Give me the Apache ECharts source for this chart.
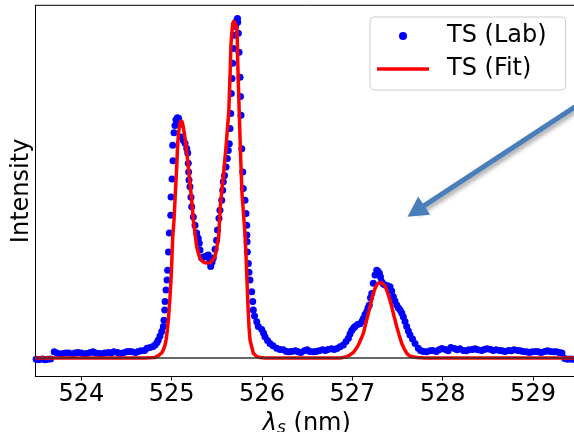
<!DOCTYPE html>
<html>
<head>
<meta charset="utf-8">
<script src="https://cdn.jsdelivr.net/npm/echarts@6/dist/echarts.min.js"></script>
<style>
html, body { margin: 0; padding: 0; background: #fff; }
#main { width: 574px; height: 432px; }
</style>
</head>
<body>
<div id="main"></div>
<script>
// wavelength ticks (nm)
var tickValues = [524, 525, 526, 527, 528, 529];

var labLambda = [
    523.50, 523.53, 523.57, 523.60, 523.63, 523.66,
    523.70, 523.73, 523.77, 523.80, 523.83, 523.86, 523.90, 523.93, 523.96, 524.00,
    524.03, 524.06, 524.10, 524.13, 524.16, 524.20, 524.23, 524.26, 524.30, 524.33,
    524.36, 524.40, 524.43, 524.46, 524.50, 524.53, 524.56, 524.60, 524.63, 524.66, 524.70,
    // peak 1
    524.727, 524.760, 524.794, 524.816, 524.838, 524.852, 524.871, 524.890, 524.908, 524.915,
    524.923, 524.927, 524.938, 524.949, 524.956, 524.965, 524.974, 524.990, 524.993, 525.004,
    525.015, 525.012, 525.026, 525.037, 525.048, 525.063, 525.076, 525.093, 525.111, 525.129,
    525.148, 525.167, 525.178, 525.184, 525.188, 525.192, 525.203, 525.214, 525.222, 525.240,
    525.259, 525.277, 525.295, 525.306, 525.314, 525.333, 525.353, 525.369, 525.388, 525.406,
    525.419, 525.432, 525.447, 525.461,
    // peak 2
    525.480, 525.497, 525.508, 525.524, 525.535, 525.554, 525.565, 525.572, 525.585, 525.602,
    525.616, 525.627, 525.638, 525.646, 525.654, 525.660, 525.668, 525.676, 525.683, 525.694,
    525.707, 525.720, 525.729, 525.731, 525.738, 525.746, 525.757, 525.762, 525.768, 525.776,
    525.787, 525.793, 525.812, 525.823, 525.831, 525.833, 525.835, 525.838, 525.849, 525.856,
    525.867, 525.886, 525.897, 525.904, 525.917, 525.942, 525.959, 525.997, 526.017, 526.033,
    526.061, 526.089, 526.122, 526.163, 526.200, 526.236,
    // between peaks
    526.27, 526.30, 526.33, 526.37, 526.40, 526.43, 526.47, 526.50, 526.53, 526.57,
    526.60, 526.63, 526.67, 526.70, 526.73, 526.77, 526.80, 526.83,
    // peak 3
    526.864, 526.900, 526.930, 526.956, 526.974, 526.993, 527.013, 527.030, 527.057, 527.085,
    527.107, 527.122, 527.140, 527.159, 527.173, 527.188, 527.201, 527.215, 527.232, 527.251,
    527.270, 527.284, 527.299, 527.312, 527.325, 527.343, 527.362, 527.390, 527.417, 527.436,
    527.454, 527.472, 527.491, 527.509, 527.528, 527.547, 527.564, 527.583, 527.602, 527.620,
    527.638, 527.666, 527.694, 527.730, 527.755, 527.786, 527.821,
    // right tail
    527.86, 527.89, 527.93, 527.96, 527.99, 528.03, 528.06, 528.09, 528.13, 528.16,
    528.19, 528.23, 528.26, 528.29, 528.33, 528.36, 528.39, 528.43, 528.46, 528.49,
    528.53, 528.56, 528.59, 528.63, 528.66, 528.69, 528.73, 528.76, 528.79, 528.83,
    528.86, 528.89, 528.93, 528.96, 528.99, 529.03, 529.06, 529.09, 529.13, 529.16,
    529.19, 529.23, 529.26, 529.29, 529.32,
    529.35, 529.38, 529.41, 529.44, 529.47
];
var labIntensity = [
    -0.004, -0.005, -0.003, -0.005, -0.004, -0.003,
    0.018, 0.015, 0.012, 0.013, 0.015, 0.015, 0.012, 0.015, 0.016, 0.015,
    0.012, 0.013, 0.016, 0.018, 0.015, 0.013, 0.012, 0.015, 0.016, 0.015,
    0.018, 0.016, 0.013, 0.015, 0.018, 0.019, 0.018, 0.016, 0.019, 0.021, 0.022,
    // peak 1
    0.029, 0.031, 0.034, 0.038, 0.046, 0.053, 0.065, 0.078, 0.093, 0.112,
    0.142, 0.167, 0.201, 0.231, 0.260, 0.314, 0.370, 0.423, 0.477, 0.530,
    0.584, 0.630, 0.667, 0.689, 0.706, 0.712, 0.710, 0.692, 0.655, 0.645,
    0.636, 0.621, 0.607, 0.577, 0.551, 0.527, 0.507, 0.476, 0.448, 0.418,
    0.393, 0.370, 0.355, 0.340, 0.320, 0.296, 0.299, 0.300, 0.302, 0.305,
    0.284, 0.271, 0.284, 0.296,
    // peak 2
    0.322, 0.349, 0.379, 0.414, 0.438, 0.467, 0.497, 0.522, 0.541, 0.566,
    0.591, 0.615, 0.635, 0.680, 0.724, 0.784, 0.828, 0.873, 0.917, 0.956,
    0.982, 1.000, 1.006, 0.995, 0.962, 0.906, 0.832, 0.775, 0.719, 0.620,
    0.551, 0.502, 0.467, 0.428, 0.393, 0.364, 0.344, 0.314, 0.280, 0.254,
    0.231, 0.196, 0.167, 0.142, 0.124, 0.107, 0.093, 0.084, 0.074, 0.063,
    0.052, 0.043, 0.036, 0.029, 0.025, 0.024,
    // between peaks
    0.019, 0.018, 0.019, 0.021, 0.018, 0.016, 0.021, 0.024, 0.019, 0.018,
    0.019, 0.021, 0.024, 0.022, 0.025, 0.027, 0.025, 0.028,
    // peak 3
    0.033, 0.038, 0.049, 0.058, 0.071, 0.081, 0.089, 0.093, 0.099, 0.101,
    0.109, 0.117, 0.129, 0.137, 0.148, 0.157, 0.178, 0.191, 0.221, 0.246,
    0.260, 0.257, 0.251, 0.240, 0.226, 0.219, 0.216, 0.214, 0.211, 0.198,
    0.181, 0.169, 0.157, 0.149, 0.142, 0.133, 0.122, 0.108, 0.093, 0.080,
    0.068, 0.056, 0.043, 0.029, 0.022, 0.019, 0.018,
    // right tail
    0.021, 0.022, 0.019, 0.024, 0.028, 0.025, 0.021, 0.031, 0.028, 0.024,
    0.027, 0.022, 0.021, 0.024, 0.025, 0.027, 0.024, 0.022, 0.025, 0.027,
    0.025, 0.022, 0.024, 0.022, 0.021, 0.019, 0.022, 0.021, 0.024, 0.022,
    0.021, 0.019, 0.018, 0.016, 0.018, 0.019, 0.018, 0.016, 0.019, 0.021,
    0.019, 0.018, 0.018, 0.016, 0.015,
    -0.002, -0.004, -0.003, -0.004, -0.003
];

// TS (Fit)
var fitLambda = [
    523.49, 524.70, 524.816, 524.849, 524.871, 524.890, 524.908, 524.924, 524.938, 524.951,
    524.963, 524.973, 524.982, 524.993, 525.001, 525.012, 525.026, 525.041, 525.056, 525.067,
    525.076, 525.085, 525.096, 525.107, 525.118, 525.129, 525.140, 525.151, 525.173, 525.196,
    525.222, 525.240, 525.259, 525.277, 525.295, 525.314, 525.342, 525.369, 525.397, 525.425,
    525.447, 525.469, 525.486, 525.499, 525.521, 525.535, 525.552, 525.572, 525.588, 525.602,
    525.616, 525.632, 525.646, 525.657, 525.668, 525.676, 525.687, 525.698, 525.709, 525.720,
    525.727, 525.731, 525.742, 525.749, 525.765, 525.779, 525.801, 525.812, 525.823, 525.831,
    525.840, 525.849, 525.857, 525.868, 525.886, 525.904, 525.942, 525.978, 526.033, 526.864,
    526.908, 526.941, 526.974, 527.011, 527.041, 527.066, 527.096, 527.122, 527.149, 527.177,
    527.205, 527.232, 527.251, 527.270, 527.288, 527.306, 527.325, 527.343, 527.365, 527.387,
    527.411, 527.436, 527.463, 527.491, 527.519, 527.547, 527.574, 527.602, 527.627, 527.657,
    527.713, 527.804, 529.50
];
var fitIntensity = [
    0, 0, 0.0015, 0.006, 0.009, 0.015, 0.024, 0.036, 0.053, 0.080,
    0.112, 0.148, 0.181, 0.231, 0.281, 0.359, 0.408, 0.488, 0.566, 0.635,
    0.666, 0.684, 0.698, 0.704, 0.698, 0.684, 0.666, 0.645, 0.596, 0.536,
    0.467, 0.408, 0.369, 0.329, 0.311, 0.295, 0.286, 0.282, 0.281, 0.282,
    0.287, 0.295, 0.308, 0.325, 0.359, 0.438, 0.488, 0.536, 0.586, 0.625,
    0.675, 0.728, 0.832, 0.931, 0.970, 0.990, 0.999, 1.000, 0.996, 0.980,
    0.941, 0.882, 0.783, 0.719, 0.586, 0.487, 0.408, 0.367, 0.305, 0.251,
    0.186, 0.132, 0.089, 0.053, 0.033, 0.014, 0.004, 0.0015, 0, 0,
    0.002, 0.004, 0.009, 0.016, 0.027, 0.038, 0.056, 0.073, 0.102, 0.132,
    0.163, 0.191, 0.206, 0.216, 0.222, 0.224, 0.223, 0.221, 0.212, 0.196,
    0.176, 0.152, 0.122, 0.093, 0.067, 0.043, 0.027, 0.014, 0.007, 0.004,
    0.0015, 0, 0
];

var FONT = 'DejaVu Sans';

function zip(xs, ys) {
    var out = [];
    for (var i = 0; i < Math.min(xs.length, ys.length); i++) {
        out.push([xs[i], ys[i]]);
    }
    return out;
}

var myChart = echarts.init(document.getElementById('main'));

var option = {
    animation: false,
    textStyle: { fontFamily: FONT },
    grid: {
        left: 35.5, top: 5.3, right: -4.2, bottom: 55.5,
        outerBoundsMode: 'none',
        show: true, borderColor: '#000', borderWidth: 1
    },
    legend: {
        orient: 'vertical',
        left: 370, top: 17,
        padding: [7, 19, 9, 7],
        itemGap: 9,
        itemWidth: 52,
        itemHeight: 8,
        borderColor: '#cccccc',
        borderWidth: 1,
        borderRadius: 4,
        backgroundColor: 'rgba(255,255,255,0.8)',
        textStyle: { fontSize: 24, color: '#000', fontFamily: FONT, padding: [0, 0, 0, 13] },
        data: [
            { name: 'TS (Lab)', icon: 'circle' },
            { name: 'TS (Fit)', icon: 'path://M0,0L52,0L52,3.5L0,3.5Z' }
        ]
    },
    xAxis: {
        type: 'value',
        min: 523.493,
        max: 529.5,
        name: '{l|λ}{s|s} (nm)',
        nameLocation: 'middle',
        nameGap: 34,
        nameTextStyle: {
            fontSize: 24, color: '#000', fontFamily: FONT,
            rich: {
                l: { fontSize: 24, fontStyle: 'italic', fontFamily: FONT, color: '#000' },
                s: { fontSize: 17, fontStyle: 'italic', fontFamily: FONT, color: '#000', padding: [10, 0, 0, 0] }
            }
        },
        axisLine: { onZero: false, lineStyle: { color: '#000', width: 1 } },
        axisTick: { show: true, length: 4, customValues: tickValues, lineStyle: { color: '#000' } },
        axisLabel: { customValues: tickValues, fontSize: 24, color: '#000', margin: 6, fontFamily: FONT },
        splitLine: { show: false }
    },
    yAxis: {
        type: 'value',
        min: -0.055,
        max: 1.045,
        name: 'Intensity',
        nameLocation: 'middle',
        nameGap: 2,
        nameTextStyle: { fontSize: 24, color: '#000', fontFamily: FONT },
        axisLine: { show: true, onZero: false, lineStyle: { color: '#000', width: 1 } },
        axisTick: { show: false },
        axisLabel: { show: false },
        splitLine: { show: false }
    },
    series: [
        {
            name: 'TS (Lab)',
            type: 'scatter',
            symbolSize: 7,
            itemStyle: { color: '#0000ff', opacity: 1 },
            z: 2,
            data: zip(labLambda, labIntensity),
            markLine: {
                silent: true,
                symbol: ['none', 'triangle'],
                symbolSize: [22, 20],
                label: { show: false },
                lineStyle: {
                    color: '#4A7EBB', width: 5, type: 'solid',
                    shadowColor: 'rgba(0,0,0,0.35)', shadowBlur: 4, shadowOffsetX: 2, shadowOffsetY: 3
                },
                data: [[{ coord: [529.5, 0.7506] }, { coord: [527.703, 0.435] }]]
            }
        },
        {
            name: 'TS (Fit)',
            type: 'line',
            showSymbol: false,
            symbol: 'none',
            lineStyle: { color: '#ff0000', width: 3.5 },
            itemStyle: { color: '#ff0000' },
            z: 3,
            data: zip(fitLambda, fitIntensity),
            markLine: {
                silent: true,
                symbol: ['none', 'none'],
                label: { show: false },
                lineStyle: { color: '#333333', width: 1.5, type: 'solid' },
                data: [{ yAxis: 0 }]
            }
        }
    ]
};

myChart.setOption(option);
</script>
</body>
</html>
